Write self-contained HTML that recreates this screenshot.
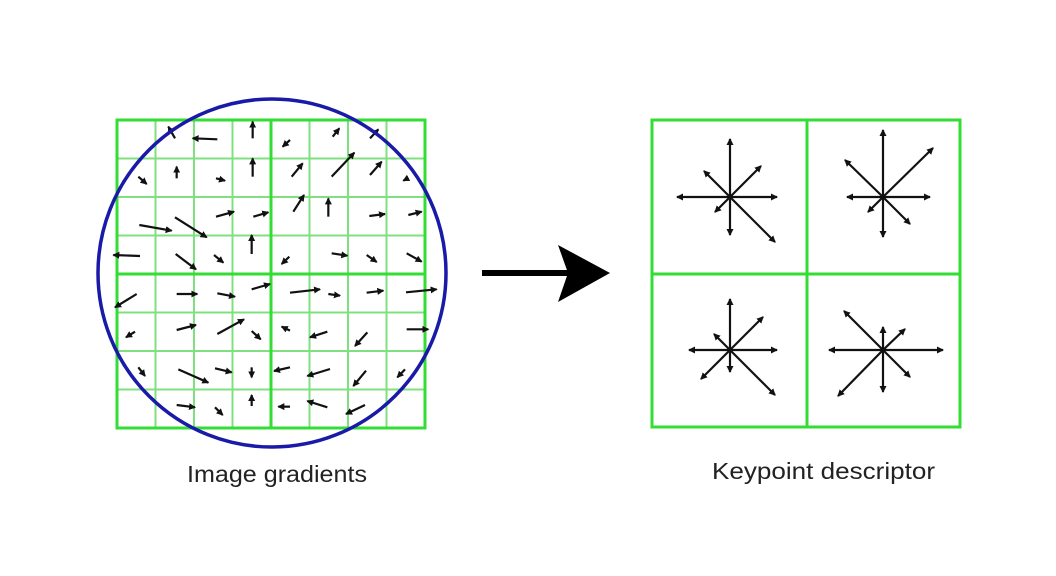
<!DOCTYPE html>
<html><head><meta charset="utf-8"><style>
html,body{margin:0;padding:0;background:#fff;}
svg{display:block;}
text{font-family:"Liberation Sans",Arial,sans-serif;fill:#222;}
</style></head><body>
<svg id="fig" width="1056" height="576" viewBox="0 0 1056 576">
<defs>
<marker id="ah" markerWidth="8" markerHeight="8" refX="6" refY="4" orient="auto" markerUnits="userSpaceOnUse">
<path d="M0,0.5 L7,4 L0,7.5 z" fill="#111"/>
</marker>
</defs>
<g id="left"></g>
<g id="right"></g>
<g>
<rect x="482" y="270" width="88" height="6" fill="#000"/>
<path d="M610,273 L558,245 L568,273 L558,302 z" fill="#000"/>
</g>
<text x="187" y="482" font-size="23" textLength="180" lengthAdjust="spacingAndGlyphs">Image gradients</text>
<text x="712" y="479" font-size="23" textLength="223" lengthAdjust="spacingAndGlyphs">Keypoint descriptor</text>
</svg>
<script>
// gradient arrows in zoom coords: [tailX, tailY, headX, headY]
const topArrows = [[195,85,175,50],[322,88,248,85],[428,85,428,35],[540,90,518,110],[668,80,688,55],[780,85,805,58],
[85,200,110,222],[200,205,200,170],[318,205,345,212],[428,200,428,145],[545,200,578,160],[665,200,733,128],[780,195,815,155],[893,205,880,212],
[318,320,372,305],[430,320,475,307],[550,305,582,255],[655,320,655,265],[778,318,825,312],[895,315,935,305],[88,345,185,362],[195,322,290,382],
[425,432,425,375],[90,438,10,435],[197,432,258,478],[312,435,340,458],[538,440,515,462],[665,430,712,437],[770,435,800,456],[890,430,935,455]];
const bottomArrows = [[80,72,15,112],[200,72,262,72],[322,70,375,80],[425,58,480,42],[540,68,630,58],[655,72,690,77],[770,68,820,62],[888,67,980,58],
[75,185,48,202],[200,180,258,165],[322,192,402,148],[425,183,452,208],[540,182,515,170],[652,185,600,202],[772,187,735,228],[890,178,955,178],
[85,292,105,318],[205,298,295,338],[315,295,365,307],[425,292,425,322],[540,292,492,303],[660,297,592,318],[768,302,730,348],[885,298,862,322],
[200,405,255,412],[315,412,338,435],[425,408,425,375],[540,410,505,410],[652,412,592,393],[765,405,708,432]];
// descriptor star components [dx, dy] per cell: up,down,left,right,NE,NW,SW,SE
const starTL = [[0,-58],[0,38],[-53,0],[47,0],[31,-31],[-26,-26],[-15,15],[45,45]];
const starTR = [[0,-67],[0,40],[-36,0],[47,0],[50,-49],[-38,-37],[-15,15],[27,27]];
const starBL = [[0,-51],[0,22],[-41,0],[47,0],[33,-33],[-16,-16],[-29,29],[45,45]];
const starBR = [[0,-23],[0,42],[-54,0],[60,0],[22,-21],[-39,-39],[-45,46],[27,27]];

const NS='http://www.w3.org/2000/svg';
function mk(tag,attrs,parent){const e=document.createElementNS(NS,tag);for(const k in attrs)e.setAttribute(k,attrs[k]);parent.appendChild(e);return e;}
const L=document.getElementById('left'), R=document.getElementById('right');
const x0=117,y0=120,cs=38.5;
for(let i=1;i<8;i++){ if(i===4) continue;
  const v=mk('line',{x1:x0+i*cs,y1:y0,x2:x0+i*cs,y2:y0+8*cs,stroke:'#80e080','stroke-width':2},L);
  
  
  const h=mk('line',{x1:x0,y1:y0+i*cs,x2:x0+8*cs,y2:y0+i*cs,stroke:'#80e080','stroke-width':2},L);
  
  
}
const c4=mk('path',{d:`M${x0+4*cs},${y0} V${y0+8*cs} M${x0},${y0+4*cs} H${x0+8*cs}`,stroke:'#33dd33','stroke-width':3,fill:'none'},L);


const ob=mk('rect',{x:x0,y:y0,width:8*cs,height:8*cs,stroke:'#33dd33','stroke-width':3,fill:'none'},L);


function drawArr(list,oy){
  list.forEach(a=>{
    const l=mk('line',{x1:110+a[0]/3,y1:oy+a[1]/3,x2:110+a[2]/3,y2:oy+a[3]/3,stroke:'#111','stroke-width':2.2,'marker-end':'url(#ah)'},L);
    
    
  });
}
drawArr(topArrows,110);drawArr(bottomArrows,270);
const circ=mk('circle',{cx:272,cy:273,r:174,stroke:'#1a1aa8','stroke-width':3.5,fill:'none'},L);



// right
const rb=mk('path',{d:'M652,120 H960 V427 H652 Z M807,120 V427 M652,274 H960',stroke:'#33dd33','stroke-width':3,fill:'none'},R);


[[starTL,730,197],[starTR,883,197],[starBL,730,350],[starBR,883,350]].forEach(s=>{
  s[0].forEach(d=>{
    const l=mk('line',{x1:s[1],y1:s[2],x2:s[1]+d[0],y2:s[2]+d[1],stroke:'#111','stroke-width':2.2,'marker-end':'url(#ah)'},R);
    
    
  });
});
</script>
</body></html>
